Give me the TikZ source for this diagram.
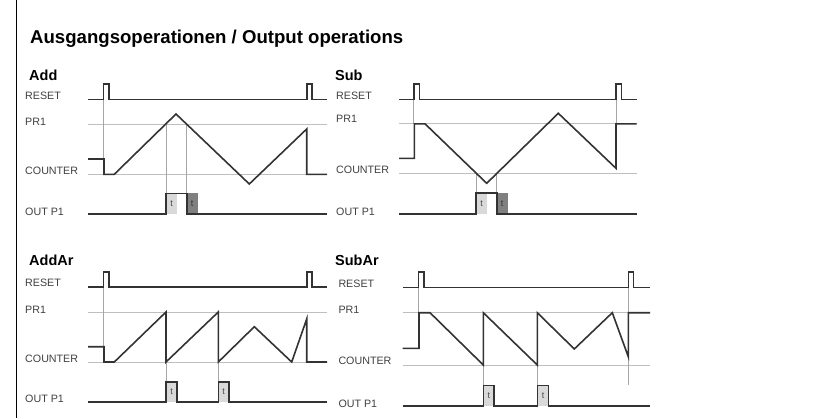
\documentclass[tikz,border=0pt]{standalone}
\usepackage{fontspec}
\setmainfont{Liberation Sans}
\begin{document}
\begin{tikzpicture}[x=1pt,y=-1pt,
 sig/.style={draw=black!80, line width=1.6pt, line join=miter},
 gridln/.style={draw=black!25, line width=0.8pt},
 vmark/.style={draw=black!35, line width=0.6pt},
 lbl/.style={anchor=base west, inner sep=0pt, font=\fontsize{10.7}{12}\selectfont, text=black!75},
 hd/.style={anchor=base west, inner sep=0pt, font=\fontsize{14.5}{17}\selectfont\bfseries},
 boxl/.style={fill=black!15, draw=none, anchor=south west, inner sep=0pt, minimum height=20.5, font=\fontsize{9}{10}\selectfont, text=black!70},
 boxd/.style={boxl, fill=black!50, text=black!80}]
\useasboundingbox (0,0) rectangle (824,418);
\draw[line width=1pt] (16,0) -- (16,418);
\node[anchor=base west, inner sep=0pt, font=\fontsize{18.6}{22}\selectfont\bfseries] (title) at (30,43.3) {Ausgangsoperationen / Output operations};

% ---------------- Add ----------------
\node[hd] (hAdd) at (29,80) {Add};
\node[lbl] (aR) at (25,99) {RESET};
\node[lbl] (aP) at (25,125) {PR1};
\node[lbl] (aC) at (25,174) {COUNTER};
\node[lbl] (aO) at (25,215.5) {OUT P1};
\node[boxl, minimum width=10.7] (ab1) at (166,214) {t};
\node[boxd, minimum width=10.6] (ab2) at (186.7,214) {t};
\draw[gridln] (88,124.3) -- (327,124.3) (88,174.3) -- (327,174.3);
\draw[vmark] (103.3,99.3) -- (103.3,174.3) (166,124.3) -- (166,193.3) (186.7,124.3) -- (186.7,193.3);
\draw[sig] (88,99.3) -- (103.3,99.3) -- (103.3,84) -- (108.7,84) -- (108.7,99.3) -- (306.7,99.3) -- (306.7,84) -- (312,84) -- (312,99.3) -- (327,99.3);
\draw[sig] (88,159) -- (104,159) -- (104,174.3) -- (114.3,174.3) -- (176,114) -- (249.3,184) -- (306.7,129) -- (306.7,174.3) -- (327,174.3);
\draw[sig] (88,214) -- (166,214) -- (166,193.3) -- (186.7,193.3) -- (186.7,214) -- (327,214);

% ---------------- Sub ----------------
\node[hd] (hSub) at (335,80) {Sub};
\node[lbl] (sR) at (336,99) {RESET};
\node[lbl] (sP) at (336,122.7) {PR1};
\node[lbl] (sC) at (336,173.3) {COUNTER};
\node[lbl] (sO) at (336,215.5) {OUT P1};
\node[boxl, minimum width=10.7] (sb1) at (476,214) {t};
\node[boxd, minimum width=10.6] (sb2) at (496.7,214) {t};
\draw[gridln] (399,123.8) -- (636.7,123.8) (399,173.3) -- (636.7,173.3);
\draw[vmark] (413.7,99.3) -- (413.7,123.8) (616,99.3) -- (616,123.8) (476,173.3) -- (476,192.7) (496.7,173.3) -- (496.7,192.7);
\draw[sig] (399,99.3) -- (413.7,99.3) -- (413.7,84) -- (419.3,84) -- (419.3,99.3) -- (616,99.3) -- (616,84) -- (621.3,84) -- (621.3,99.3) -- (636.7,99.3);
\draw[sig] (399,158.3) -- (414.3,158.3) -- (414.3,123.8) -- (425,123.8) -- (486.7,183.3) -- (558.3,113.3) -- (616,168.3) -- (616,123.8) -- (636.7,123.8);
\draw[sig] (399,214) -- (476,214) -- (476,192.7) -- (496.7,192.7) -- (496.7,214) -- (636.7,214);

% ---------------- AddAr ----------------
\node[hd] (hAddAr) at (29,265) {AddAr};
\node[lbl] (arR) at (25,286.7) {RESET};
\node[lbl] (arP) at (25,313.3) {PR1};
\node[lbl] (arC) at (25,362.3) {COUNTER};
\node[lbl] (arO) at (25,402.3) {OUT P1};
\node[boxl, minimum width=10.7, minimum height=20.3] (arb1) at (166,402) {t};
\node[boxl, minimum width=10.4, minimum height=20.3] (arb2) at (218.3,402) {t};
\draw[gridln] (88,312) -- (327,312) (88,362) -- (327,362);
\draw[vmark] (103.3,286.7) -- (103.3,362) (166,312) -- (166,381.7) (218.3,312) -- (218.3,381.7);
\draw[sig] (88,286.7) -- (103.3,286.7) -- (103.3,271.7) -- (108.7,271.7) -- (108.7,286.7) -- (306.7,286.7) -- (306.7,271.7) -- (312,271.7) -- (312,286.7) -- (327,286.7);
\draw[sig] (88,346.7) -- (104,346.7) -- (104,362) -- (114.3,362) -- (166,312) -- (166,362) -- (218.3,312) -- (218.3,362) -- (254.3,326.7) -- (291.7,362) -- (306.7,319) -- (306.7,362) -- (327,362);
\draw[sig] (88,402) -- (166,402) -- (166,381.7) -- (176.7,381.7) -- (176.7,402) -- (218.3,402) -- (218.3,381.7) -- (228.7,381.7) -- (228.7,402) -- (327,402);

% ---------------- SubAr ----------------
\node[hd] (hSubAr) at (335,265) {SubAr};
\node[lbl] (srR) at (338.3,287.3) {RESET};
\node[lbl] (srP) at (338.3,313.3) {PR1};
\node[lbl] (srC) at (338.3,364.3) {COUNTER};
\node[lbl] (srO) at (338.3,407.3) {OUT P1};
\node[boxl, minimum width=10.7, minimum height=20.4] (srb1) at (483.3,405.7) {t};
\node[boxl, minimum width=11, minimum height=20.4] (srb2) at (537.3,405.7) {t};
\draw[gridln] (402.7,312.7) -- (650,312.7) (402.7,365) -- (650,365);
\draw[vmark] (418.3,287.3) -- (418.3,312.7) (628.3,287.3) -- (628.3,385.3) (483.3,365) -- (483.3,385.3) (537.3,365) -- (537.3,385.3);
\draw[sig] (402.7,287.3) -- (418.3,287.3) -- (418.3,271.7) -- (424,271.7) -- (424,287.3) -- (628.3,287.3) -- (628.3,271.7) -- (633.3,271.7) -- (633.3,287.3) -- (650,287.3);
\draw[sig] (402.7,348.3) -- (419,348.3) -- (419,312.7) -- (430,312.7) -- (483.3,365) -- (483.3,312.7) -- (537.3,365) -- (537.3,312.7) -- (574.3,349) -- (612.3,312.7) -- (628.3,356.7) -- (628.3,312.7) -- (650,312.7);
\draw[sig] (402.7,405.7) -- (483.3,405.7) -- (483.3,385.3) -- (494,385.3) -- (494,405.7) -- (537.3,405.7) -- (537.3,385.3) -- (548.3,385.3) -- (548.3,405.7) -- (650,405.7);
\end{tikzpicture}
\end{document}
